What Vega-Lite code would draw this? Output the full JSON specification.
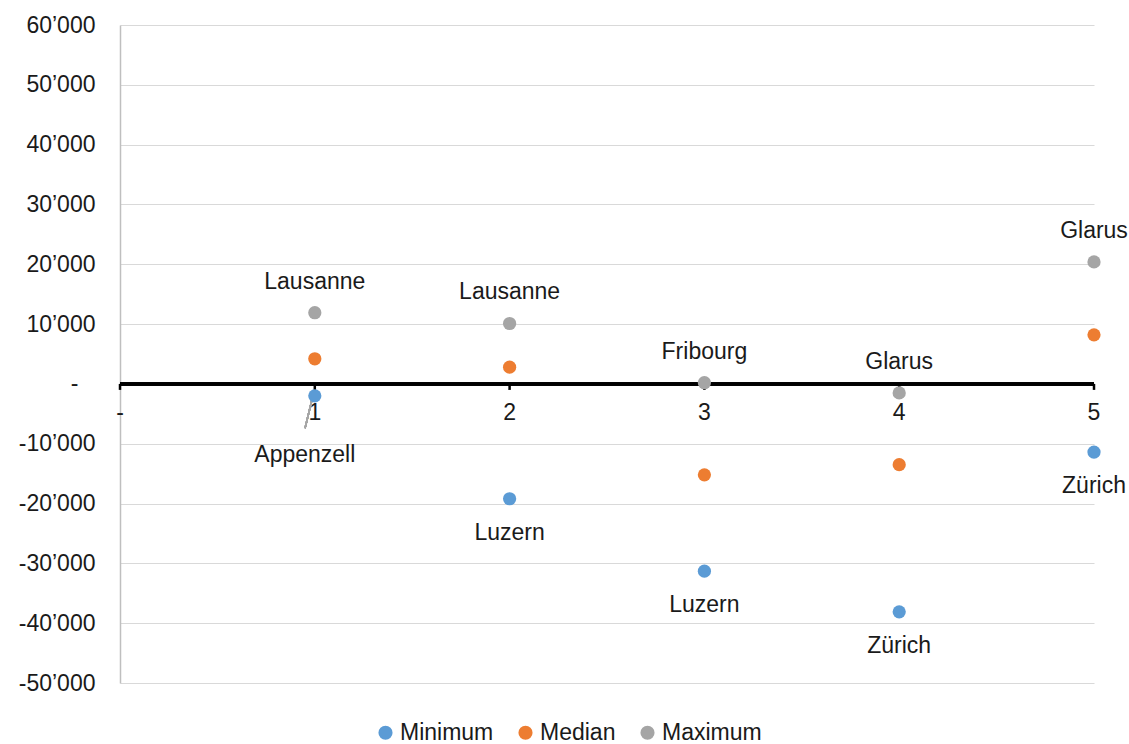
{
  "$schema": "https://vega.github.io/schema/vega-lite/v6.json",
  "width": 974,
  "height": 658,
  "autosize": {"type": "none"},
  "padding": {"left": 120, "top": 25, "right": 35, "bottom": 61},
  "config": {"view": {"stroke": null}, "font": "Liberation Sans"},
  "datasets": {
    "pts": [
      {"x": 1, "series": "Minimum", "value": -2000, "label": "Appenzell"},
      {"x": 1, "series": "Median", "value": 4200, "label": ""},
      {"x": 1, "series": "Maximum", "value": 11900, "label": "Lausanne"},
      {"x": 2, "series": "Minimum", "value": -19200, "label": "Luzern"},
      {"x": 2, "series": "Median", "value": 2800, "label": ""},
      {"x": 2, "series": "Maximum", "value": 10100, "label": "Lausanne"},
      {"x": 3, "series": "Minimum", "value": -31300, "label": "Luzern"},
      {"x": 3, "series": "Median", "value": -15200, "label": ""},
      {"x": 3, "series": "Maximum", "value": 200, "label": "Fribourg"},
      {"x": 4, "series": "Minimum", "value": -38100, "label": "Zürich"},
      {"x": 4, "series": "Median", "value": -13500, "label": ""},
      {"x": 4, "series": "Maximum", "value": -1500, "label": "Glarus"},
      {"x": 5, "series": "Minimum", "value": -11400, "label": "Zürich"},
      {"x": 5, "series": "Median", "value": 8200, "label": ""},
      {"x": 5, "series": "Maximum", "value": 20400, "label": "Glarus"}
    ],
    "ticks": [
      {"x": 0, "t": "-"},
      {"x": 1, "t": "1"},
      {"x": 2, "t": "2"},
      {"x": 3, "t": "3"},
      {"x": 4, "t": "4"},
      {"x": 5, "t": "5"}
    ]
  },
  "layer": [
    {
      "data": {"name": "ticks"},
      "mark": {"type": "rule", "color": "black", "strokeWidth": 3},
      "encoding": {
        "x": {"datum": 0, "type": "quantitative", "scale": {"domain": [0, 5]}, "axis": null},
        "x2": {"datum": 5},
        "y": {
          "datum": 0,
          "type": "quantitative",
          "scale": {"domain": [-50000, 60000], "nice": false, "zero": false},
          "axis": {
            "title": null,
            "values": [-50000, -40000, -30000, -20000, -10000, 0, 10000, 20000, 30000, 40000, 50000, 60000],
            "labelExpr": "datum.value == 0 ? '-' : (datum.value < 0 ? '-' : '') + replace(format(abs(datum.value), ','), ',', '’')",
            "labelFontSize": 23,
            "labelColor": "#1a1a1a",
            "labelPadding": {"condition": {"test": "datum.value == 0", "value": 42}, "value": 25},
            "ticks": false,
            "domainColor": "#bfbfbf",
            "domainWidth": 1.5,
            "gridColor": "#d9d9d9",
            "gridWidth": 1,
            "grid": true
          }
        }
      }
    },
    {
      "data": {"name": "ticks"},
      "mark": {"type": "rule", "color": "black", "strokeWidth": 2.5},
      "encoding": {
        "x": {"field": "x", "type": "quantitative"},
        "y": {"datum": 0, "type": "quantitative"},
        "y2": {"datum": -1000}
      }
    },
    {
      "data": {"name": "ticks"},
      "mark": {"type": "text", "fontSize": 23, "color": "#1a1a1a", "dy": 29, "baseline": "middle"},
      "encoding": {
        "x": {"field": "x", "type": "quantitative"},
        "y": {"datum": 0, "type": "quantitative"},
        "text": {"field": "t"}
      }
    },
    {
      "data": {"name": "pts"},
      "mark": {"type": "rule", "color": "#a6a6a6", "strokeWidth": 1.5},
      "encoding": {
        "x": {"datum": 0.985, "type": "quantitative"},
        "y": {"datum": -2700, "type": "quantitative"},
        "x2": {"datum": 0.95},
        "y2": {"datum": -7400}
      }
    },
    {
      "data": {"name": "pts"},
      "mark": {"type": "circle", "size": 175, "opacity": 1},
      "encoding": {
        "x": {"field": "x", "type": "quantitative"},
        "y": {"field": "value", "type": "quantitative"},
        "color": {
          "field": "series",
          "type": "nominal",
          "scale": {"domain": ["Minimum", "Median", "Maximum"], "range": ["#5B9BD5", "#ED7D31", "#A5A5A5"]},
          "legend": {
            "title": null,
            "orient": "none",
            "direction": "horizontal",
            "legendX": 254,
            "legendY": 696,
            "symbolType": "circle",
            "symbolSize": 200,
            "labelFontSize": 23,
            "labelColor": "#1a1a1a",
            "labelOffset": 3,
            "columnPadding": 20
          }
        }
      }
    },
    {
      "data": {"name": "pts"},
      "transform": [{"filter": "datum.series == 'Maximum'"}],
      "mark": {"type": "text", "fontSize": 23, "color": "#1a1a1a", "dy": -31, "baseline": "middle"},
      "encoding": {
        "x": {"field": "x", "type": "quantitative"},
        "y": {"field": "value", "type": "quantitative"},
        "text": {"field": "label"}
      }
    },
    {
      "data": {"name": "pts"},
      "transform": [{"filter": "datum.series == 'Minimum' && datum.x != 1"}],
      "mark": {"type": "text", "fontSize": 23, "color": "#1a1a1a", "dy": 34, "baseline": "middle"},
      "encoding": {
        "x": {"field": "x", "type": "quantitative"},
        "y": {"field": "value", "type": "quantitative"},
        "text": {"field": "label"}
      }
    },
    {
      "data": {"name": "pts"},
      "transform": [{"filter": "datum.series == 'Minimum' && datum.x == 1"}],
      "mark": {"type": "text", "fontSize": 23, "color": "#1a1a1a", "dx": -10, "dy": 59, "baseline": "middle"},
      "encoding": {
        "x": {"field": "x", "type": "quantitative"},
        "y": {"field": "value", "type": "quantitative"},
        "text": {"field": "label"}
      }
    }
  ]
}
